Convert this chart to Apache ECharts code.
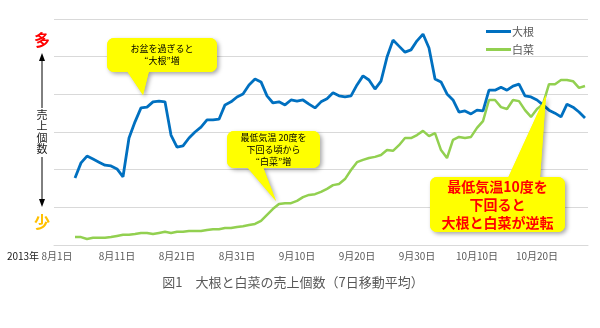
<!DOCTYPE html>
<html>
<head>
<meta charset="utf-8">
<script src="https://cdn.jsdelivr.net/npm/echarts@6/dist/echarts.min.js"></script>
<style>
  html, body { margin: 0; padding: 0; background: #fff; }
  #chart { width: 600px; height: 328px; }
</style>
</head>
<body>
<div id="chart"></div>
<script>
// Daily categories, 2013-08-01 .. 2013-10-28
const monthSpans = [[8, 31], [9, 30], [10, 28]];
const categories = [];
monthSpans.forEach(([m, n]) => {
  for (let d = 1; d <= n; d++) categories.push(m + '月' + d + '日');
});

// 7-day moving average of units sold (relative scale)
const daikon = [null, null, null,
  17.8, 21.8, 23.6, 22.8, 22.0, 21.2, 21.0, 20.2, 18.1, 28.4,
  32.7, 36.4, 36.6, 38.0, 38.2, 38.0, 29.2, 26.0, 26.3, 28.4,
  30.0, 31.3, 33.2, 33.2, 33.4, 37.2, 38.0, 39.3, 40.1, 42.5,
  44.1, 43.3, 39.6, 37.7, 38.0, 37.2, 38.5, 38.2, 38.5, 37.4,
  36.4, 38.0, 38.8, 40.4, 39.6, 39.3, 39.6, 42.5, 44.9, 43.8,
  41.4, 43.5, 49.9, 54.4, 52.8, 51.2, 51.8, 54.2, 56.0, 52.3,
  44.1, 43.3, 40.1, 38.5, 35.3, 35.6, 34.8, 35.8, 35.6, 41.1,
  41.1, 41.9, 41.1, 42.2, 42.7, 39.6, 39.3, 38.5, 37.2, 35.8,
  35.0, 34.0, 37.4, 36.6, 35.3, 33.7];

const hakusai = [null, null, null,
  2.1, 2.1, 1.6, 1.9, 1.9, 1.9, 2.1, 2.4, 2.7, 2.7,
  2.9, 3.2, 3.2, 2.9, 3.2, 3.5, 3.2, 3.5, 3.5, 3.7,
  3.7, 3.7, 4.0, 4.2, 4.2, 4.5, 4.5, 4.8, 5.0, 5.3,
  5.6, 6.4, 8.0, 9.6, 10.9, 11.1, 11.1, 11.7, 12.7, 13.3,
  13.5, 14.1, 14.9, 15.9, 16.2, 17.5, 19.9, 22.0, 22.6, 23.1,
  23.4, 23.9, 25.2, 25.0, 26.5, 28.4, 28.4, 29.2, 30.3, 28.9,
  29.7, 25.2, 23.1, 27.9, 28.7, 28.4, 28.7, 31.1, 32.9, 38.5,
  38.5, 36.6, 36.1, 38.5, 38.2, 35.8, 34.0, 36.1, 37.4, 42.7,
  42.7, 43.8, 43.8, 43.5, 41.7, 42.2];

const seriesNames = ['大根', '白菜'];
const titleText = '図1　大根と白菜の売上個数（7日移動平均）';

const JP = '"Noto Sans CJK JP", "Noto Sans", sans-serif';
const YELLOW = '#FFFF00';

// speech balloon: rounded box plus a pointer triangle, with a soft shadow
function balloon(box, tri, lines, textStyle) {
  const shadow = { shadowBlur: 4, shadowOffsetX: 2, shadowOffsetY: 2, shadowColor: 'rgba(0,0,0,0.35)' };
  const els = [];
  els.push({ type: 'rect', shape: { x: box[0], y: box[1], width: box[2], height: box[3], r: 7 },
             style: Object.assign({ fill: YELLOW }, shadow), z: 10 });
  els.push({ type: 'polygon', shape: { points: tri }, style: Object.assign({ fill: YELLOW }, shadow), z: 10 });
  els.push({ type: 'rect', shape: { x: box[0], y: box[1], width: box[2], height: box[3], r: 7 },
             style: { fill: YELLOW }, z: 11 });
  els.push({ type: 'polygon', shape: { points: tri }, style: { fill: YELLOW }, z: 11 });
  els.push({ type: 'text', x: box[0] + box[2] / 2, y: box[1] + box[3] / 2, z: 12,
             style: Object.assign({ text: lines.join('\n'), align: 'center', verticalAlign: 'middle',
                                    fontFamily: JP }, textStyle) });
  return els;
}

const chart = echarts.init(document.getElementById('chart'), null, { renderer: 'canvas' });

const graphics = [].concat(
  // y-axis meaning: more / fewer units sold
  [
    { type: 'text', x: 42, y: 40, style: { text: '多', fill: '#FF0000', fontSize: 16, fontWeight: 'bold',
      fontFamily: JP, align: 'center', verticalAlign: 'middle' } },
    { type: 'text', x: 42, y: 222, style: { text: '少', fill: '#FFC000', fontSize: 16, fontWeight: 'bold',
      fontFamily: JP, align: 'center', verticalAlign: 'middle' } },
    { type: 'line', shape: { x1: 42, y1: 58, x2: 42, y2: 108 }, style: { stroke: '#000', lineWidth: 1 } },
    { type: 'polygon', shape: { points: [[42, 53], [39, 61], [45, 61]] }, style: { fill: '#000' } },
    { type: 'line', shape: { x1: 42, y1: 157, x2: 42, y2: 202 }, style: { stroke: '#000', lineWidth: 1 } },
    { type: 'polygon', shape: { points: [[42, 207], [39, 199], [45, 199]] }, style: { fill: '#000' } },
    { type: 'text', x: 42, y: 132, style: { text: '売\n上\n個\n数', fill: '#222', fontSize: 11,
      lineHeight: 11.5, fontFamily: JP, align: 'center', verticalAlign: 'middle' } },
    { type: 'text', x: 23, y: 256, style: { text: '2013年', fill: '#222', fontSize: 10,
      fontFamily: JP, align: 'center', verticalAlign: 'middle' } },
    { type: 'text', x: 293, y: 282, style: { text: titleText, fill: '#595959', fontSize: 13,
      fontFamily: JP, align: 'center', verticalAlign: 'middle' } }
  ],
  balloon([107, 38, 110, 34], [[127, 71], [149, 71], [143, 95]],
          ['お盆を過ぎると', '“大根”増'], { fill: '#000', fontSize: 9, lineHeight: 12 }),
  balloon([227, 131, 93, 37], [[247, 167], [263, 167], [276, 201]],
          ['最低気温 20度を', '下回る頃から', '“白菜”増'], { fill: '#000', fontSize: 9, lineHeight: 12 }),
  balloon([430, 177, 135, 55], [[508, 178], [540, 178], [546, 95]],
          ['最低気温10度を', '下回ると', '大根と白菜が逆転'],
          { fill: '#FF0000', fontSize: 14, fontWeight: 'bold', lineHeight: 18 })
);

chart.setOption({
  animation: false,
  backgroundColor: '#fff',
  grid: { left: 54, right: 12, top: 19, bottom: 83 },
  legend: {
    orient: 'vertical', left: 481, top: 21, itemGap: 7,
    icon: 'rect', itemWidth: 25, itemHeight: 3,
    textStyle: { color: '#595959', fontSize: 11, fontFamily: JP, padding: [0, 0, 0, -4] },
    data: seriesNames
  },
  xAxis: {
    type: 'category', data: categories, boundaryGap: true,
    axisLine: { lineStyle: { color: '#d9d9d9' } },
    axisTick: { show: false },
    axisLabel: { interval: 9, color: '#595959', fontSize: 10, fontFamily: JP, margin: 6 }
  },
  yAxis: {
    type: 'value', min: 0, max: 60, interval: 10,
    axisLabel: { show: false }, axisLine: { show: false }, axisTick: { show: false },
    splitLine: { lineStyle: { color: '#d9d9d9', width: 1 } }
  },
  series: [
    { name: seriesNames[0], type: 'line', data: daikon, showSymbol: false, symbol: 'none',
      lineStyle: { color: '#0070C0', width: 2.8 }, itemStyle: { color: '#0070C0' }, z: 3 },
    { name: seriesNames[1], type: 'line', data: hakusai, showSymbol: false, symbol: 'none',
      lineStyle: { color: '#92D050', width: 2.5 }, itemStyle: { color: '#92D050' }, z: 2 }
  ],
  graphic: graphics
});
</script>
</body>
</html>
